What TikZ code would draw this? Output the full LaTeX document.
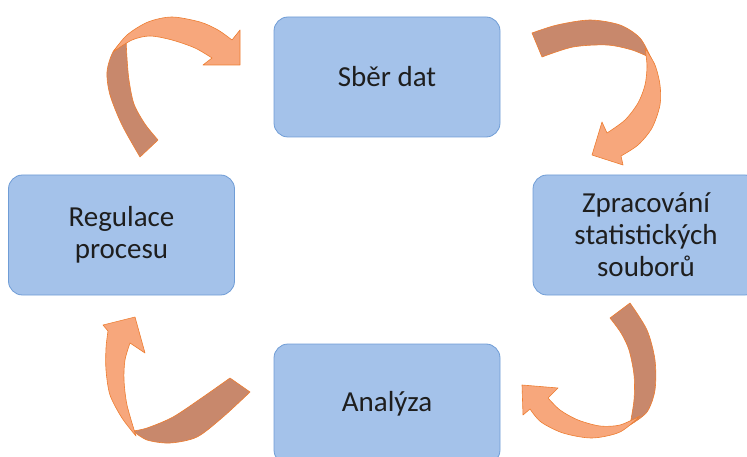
\documentclass[tikz,border=0pt]{standalone}
\usepackage{fontspec}
\setmainfont{Carlito}
\definecolor{boxfill}{RGB}{164,194,234}
\definecolor{boxedge}{RGB}{112,157,214}
\definecolor{lightor}{RGB}{247,167,124}
\definecolor{darkor}{RGB}{200,136,108}
\definecolor{edgeor}{RGB}{237,125,49}
\definecolor{txt}{RGB}{30,30,30}
\begin{document}
\begin{tikzpicture}[x=1pt,y=-1pt,
  box/.style={draw=boxedge, fill=boxfill, line width=0.8pt, rounded corners=14pt,
    minimum width=226pt, minimum height=120pt, align=center, text=txt,
    font=\fontsize{29}{32}\selectfont, inner sep=0pt},
  back/.style={fill=darkor, draw=edgeor, line width=0.6pt, line join=round},
  front/.style={fill=lightor, draw=edgeor, line width=0.6pt, line join=round}]
\useasboundingbox (0,0) rectangle (747,457);
\clip (0,0) rectangle (747,457);
\node[box] (sber) at (387,77) {Sběr dat};
\node[box] (zprac) at (646,235) {Zpracování\\statistických\\souborů};
\node[box] (regul) at (121.5,235) {Regulace\\procesu};
\node[box] (anal) at (387,404) {Analýza};
% arrow 1: Regulace -> Sber dat
\filldraw[back] plot[smooth] coordinates {(140,157) (122,125) (110,95) (107,72) (113,52) (126,38)}
  -- plot[smooth] coordinates {(126,38) (127,58) (129,80) (134,104) (145,124) (158,140)} -- cycle;
\filldraw[front] plot[smooth] coordinates {(113,52) (127,35) (148,22) (172,17) (200,22) (218,30) (232,40)}
  -- (240,30) -- (240,65) -- (203,65) -- (212,58)
  -- plot[smooth] coordinates {(212,58) (195,48) (172,40) (150,36) (132,40) (113,52)} -- cycle;
% arrow 2: Sber dat -> Zpracovani
\filldraw[back] plot[smooth] coordinates {(532,33) (557,25) (590,20) (620,25) (640,38) (651,58)}
  -- plot[smooth] coordinates {(651,58) (632,50) (607,45) (573,47) (542,57)} -- cycle;
\filldraw[front] plot[smooth] coordinates {(645,48) (655,65) (660,85) (660,105) (652,128) (638,145) (621,156)}
  -- (623,165) -- (592,155) -- (602,122) -- (607,133)
  -- plot[smooth] coordinates {(607,133) (625,120) (638,103) (645,85) (647,66) (645,48)} -- cycle;
% arrow 3: Zpracovani -> Analyza
\filldraw[back] plot[smooth] coordinates {(630,303) (647,330) (655,360) (655,390) (647,412) (630,425)}
  -- plot[smooth] coordinates {(630,425) (634,400) (634,375) (629,350) (621,333) (610,318)} -- cycle;
\filldraw[front] plot[smooth] coordinates {(640,416) (620,432) (592,438) (563,433) (541,422) (530,409)}
  -- (523,415) -- (522,385) -- (558,388) -- (548,398)
  -- plot[smooth] coordinates {(548,398) (560,410) (578,420) (600,426) (620,425) (640,416)} -- cycle;
% arrow 4: Analyza -> Regulace
\filldraw[back] plot[smooth] coordinates {(250,392) (223,417) (197,437) (170,443) (147,440) (133,431)}
  -- plot[smooth] coordinates {(133,431) (147,428) (173,417) (203,397) (230,378)} -- cycle;
\filldraw[front] plot[smooth] coordinates {(136,436) (122,418) (110,395) (106,370) (106,348) (108,331)}
  -- (103,325) -- (135,317) -- (145,353) -- (130,343)
  -- plot[smooth] coordinates {(130,343) (125,360) (124,380) (127,405) (136,436)} -- cycle;
\end{tikzpicture}
\end{document}
